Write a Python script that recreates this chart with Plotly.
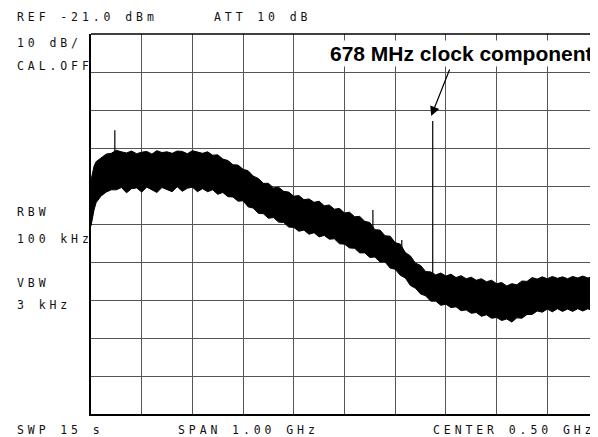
import plotly.graph_objects as go

# ---- data ----
freq_ghz = [0.0, 0.003, 0.006, 0.01, 0.02, 0.03, 0.04, 0.05, 0.06, 0.07, 0.08, 0.09,
            0.10, 0.11, 0.12, 0.13, 0.14, 0.15, 0.16, 0.17, 0.18, 0.19,
            0.20, 0.21, 0.22, 0.23, 0.24, 0.25, 0.26, 0.27, 0.28, 0.29,
            0.30, 0.31, 0.32, 0.33, 0.34, 0.35, 0.36, 0.37, 0.38, 0.39,
            0.40, 0.41, 0.42, 0.43, 0.44, 0.45, 0.46, 0.47, 0.48, 0.49,
            0.50, 0.51, 0.52, 0.53, 0.54, 0.55, 0.56, 0.57, 0.58, 0.59,
            0.60, 0.61, 0.62, 0.63, 0.64, 0.65, 0.66, 0.67, 0.68, 0.69,
            0.70, 0.71, 0.72, 0.73, 0.74, 0.75, 0.76, 0.77, 0.78, 0.79,
            0.80, 0.81, 0.82, 0.83, 0.84, 0.85, 0.86, 0.87, 0.88, 0.89,
            0.90, 0.91, 0.92, 0.93, 0.94, 0.95, 0.96, 0.97, 0.98, 0.99, 1.00]

trace_top_dbm = [-59.5, -57.5, -55.8, -54.6, -53.6, -52.6, -52.4, -51.6, -52.0, -52.3, -51.8, -52.5,
                 -52.1, -51.9, -52.6, -51.7, -52.2, -52.0, -52.4, -51.8, -51.9, -52.5,
                 -51.7, -52.1, -52.4, -52.0, -52.9, -52.8, -53.9, -54.3, -55.4, -55.5,
                 -56.6, -57.0, -58.4, -59.0, -60.3, -60.3, -61.5, -61.3, -62.4, -62.6,
                 -63.7, -63.5, -64.6, -64.4, -65.3, -65.0, -66.2, -66.0, -67.1, -66.9,
                 -68.1, -67.9, -69.1, -69.0, -70.3, -70.6, -72.5, -72.6, -74.1, -74.2,
                 -75.9, -76.3, -78.5, -79.4, -81.3, -81.9, -83.5, -83.6, -84.4, -83.9,
                 -84.7, -84.2, -85.1, -84.6, -85.4, -85.0, -85.8, -85.4, -86.2, -85.8,
                 -86.7, -86.4, -87.3, -86.7, -87.0, -86.0, -86.1, -85.1, -85.5, -84.9,
                 -85.4, -84.8, -85.3, -84.9, -85.4, -84.8, -85.2, -84.7, -85.2, -84.8, -85.0]

trace_bottom_dbm = [-71.5, -69.0, -67.3, -65.4, -63.6, -62.6, -62.0, -62.0, -61.4, -62.8, -61.7, -61.5,
                    -62.6, -61.3, -62.0, -62.7, -61.4, -61.9, -62.5, -61.2, -62.4, -61.6,
                    -61.3, -62.5, -61.7, -62.5, -62.0, -63.2, -62.7, -63.8, -63.9, -65.0,
                    -64.9, -66.5, -66.8, -68.2, -68.3, -69.5, -69.3, -70.5, -70.6, -71.8,
                    -71.9, -72.9, -72.6, -73.7, -73.3, -74.4, -74.0, -75.0, -74.9, -76.2,
                    -76.3, -77.3, -77.4, -78.6, -78.6, -79.8, -79.7, -81.0, -81.0, -82.6,
                    -82.9, -84.5, -85.2, -87.2, -87.9, -89.4, -89.9, -91.3, -91.3, -92.4,
                    -92.1, -93.0, -92.8, -93.8, -93.6, -94.5, -94.3, -95.3, -94.9, -95.8,
                    -95.6, -96.4, -96.0, -96.8, -95.7, -95.8, -94.8, -94.8, -93.9, -94.2,
                    -93.4, -94.1, -93.3, -94.0, -93.4, -94.0, -93.3, -93.9, -93.3, -94.0, -93.5]

# discrete spurs
spur_freq_ghz = [0.047, 0.556, 0.613, 0.674]
spur_top_dbm = [-46.3, -67.3, -75.2, -43.9]
spur_base_dbm = [-56.0, -72.0, -79.0, -86.0]

REF_DBM = -21.0
DB_PER_DIV = 10
SPAN_GHZ = 1.0

# ---- figure ----
fig = go.Figure()

poly_x = freq_ghz + freq_ghz[::-1]
poly_y = trace_top_dbm + trace_bottom_dbm[::-1]
fig.add_trace(go.Scatter(x=poly_x, y=poly_y, mode="lines", fill="toself",
                         fillcolor="black", line=dict(color="black", width=1),
                         hoverinfo="skip", showlegend=False))

sx, sy = [], []
for f, t, b in zip(spur_freq_ghz, spur_top_dbm, spur_base_dbm):
    sx += [f, f, None]
    sy += [t, b, None]
fig.add_trace(go.Scatter(x=sx, y=sy, mode="lines", line=dict(color="black", width=1.2),
                         hoverinfo="skip", showlegend=False))

# page body has an 8px margin; lay out in screen pixels and shift
OFF = 8
W, H = 598 - OFF, 437 - OFF
L, T = 91 - OFF, 34 - OFF
B = H - (414 - OFF)
R = 0
pw, ph = W - L - R, H - T - B


def px(x):
    return (x - OFF - L) / pw


def py(y):
    return (H - B - (y - OFF)) / ph


mono = dict(family="DejaVu Sans Mono", size=11.5, color="#111")


def lab(text, x, y, anchor="left"):
    fig.add_annotation(text='<span style="letter-spacing:3.9px">' + text + '</span>',
                       xref="paper", yref="paper", x=px(x), y=py(y),
                       xanchor=anchor, yanchor="middle", showarrow=False, font=mono)


lab("REF %.1f dBm" % REF_DBM, 15, 17)
lab("ATT 10 dB", 212, 17)
lab("%d dB/" % DB_PER_DIV, 15, 43)
lab("CAL.OFF", 15, 66)
lab("RBW", 15, 212)
lab("100 kHz", 15, 239)
lab("VBW", 15, 283)
lab("3 kHz", 15, 305)
lab("SWP 15 s", 15, 430)
lab("SPAN %.2f GHz" % SPAN_GHZ, 176, 430)
lab("CENTER 0.50 GHz", 431, 430)

fig.add_annotation(text="<b>678 MHz clock component</b>", xref="paper", yref="paper",
                   x=px(461), y=py(53), xanchor="center", yanchor="middle",
                   showarrow=False, bgcolor="white",
                   font=dict(family="Liberation Sans", size=21, color="black"))

fig.add_annotation(x=0.671, y=-42.6, xref="x", yref="y", text="", showarrow=True,
                   ax=19, ay=-48, arrowhead=2, arrowsize=1.6, arrowwidth=1.2,
                   arrowcolor="black", standoff=0)

axis_common = dict(showgrid=True, gridcolor="#555", gridwidth=1, zeroline=False,
                   showticklabels=False, ticks="", showline=True, linecolor="black",
                   linewidth=1.5)
fig.update_xaxes(range=[0, SPAN_GHZ], dtick=SPAN_GHZ / 10, mirror=False, **axis_common)
fig.update_yaxes(range=[REF_DBM - 10 * DB_PER_DIV, REF_DBM], dtick=DB_PER_DIV,
                 tick0=REF_DBM, mirror=False, **axis_common)

fig.update_layout(width=W, height=H, margin=dict(l=L, r=R, t=T, b=B),
                  paper_bgcolor="white", plot_bgcolor="white", showlegend=False)

fig.add_shape(type="line", xref="paper", yref="paper", x0=0, x1=1, y0=1, y1=1,
              line=dict(color="black", width=1.5))

fig.write_html("out.html")
